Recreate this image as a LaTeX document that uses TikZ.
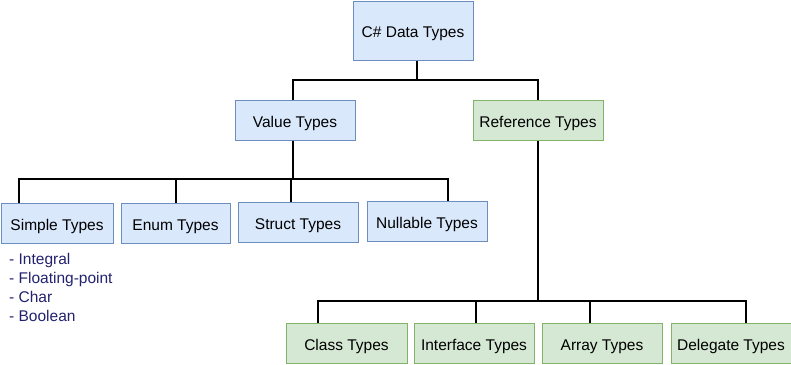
\documentclass[tikz,border=0pt]{standalone}
\usepackage{fontspec}
\setmainfont{Liberation Sans}
\usepackage{tikz}
\usetikzlibrary{positioning,calc}
\definecolor{valfill}{HTML}{DAE8FC}
\definecolor{valline}{HTML}{6C8EBF}
\definecolor{reffill}{HTML}{D5E8D4}
\definecolor{refline}{HTML}{82B366}
\definecolor{listtext}{RGB}{34,34,110}
\tikzstyle{valbox} = [rectangle, draw=valline, fill=valfill, line width=1pt, minimum width=120pt, minimum height=40pt, inner sep=0pt, text height=14pt, text depth=0pt, font=\fontsize{15.5}{18}\selectfont]
\tikzstyle{refbox} = [rectangle, draw=refline, fill=reffill, line width=1pt, minimum width=120pt, minimum height=40pt, inner sep=0pt, text height=14pt, text depth=0pt, font=\fontsize{15.5}{18}\selectfont]
\tikzstyle{conn} = [line width=1.6pt, black]

\begin{document}
\begin{tikzpicture}[x=1pt, y=1pt]
    \useasboundingbox (0,0) rectangle (791,-364);
    % top levels
    \node[valbox, minimum height=59pt] (root) at (413,-30.5) {C\# Data Types};
    \node[valbox] (value) at (295,-120) {Value Types};
    \node[refbox, minimum width=130pt] (ref) at (538,-120.5) {Reference Types};
    % value types
    \node[valbox, minimum width=112pt] (simple) at (57,-223) {Simple Types};
    \node[valbox, minimum width=109pt] (enum) at (175.5,-223) {Enum Types};
    \node[valbox] (struct) at (298,-222) {Struct Types};
    \node[valbox] (nullable) at (427,-221) {Nullable Types};
    \node[anchor=north west, align=left, text=listtext, inner sep=0pt,
          font=\fontsize{15.5}{19}\selectfont] (simplelist) at (9,-253)
          {- Integral\\- Floating-point\\- Char\\- Boolean};
    % reference types
    \node[refbox, minimum width=121pt] (class) at (346.5,-343) {Class Types};
    \node[refbox] (interface) at (474,-343) {Interface Types};
    \node[refbox] (array) at (602,-343) {Array Types};
    \node[refbox] (delegate) at (731,-343) {Delegate Types};
    % connectors
    \coordinate (rootbus) at (417,-80);
    \coordinate (valbus) at (293,-179);
    \coordinate (refbus) at (538,-301);
    \draw[conn] ([xshift=4pt]root.south) -- (rootbus);
    \draw[conn] (rootbus) -| ([xshift=-2pt]value.north);
    \draw[conn] (rootbus) -| (ref.north);
    \draw[conn] ([xshift=-2pt]value.south) -- (valbus);
    \draw[conn] (valbus) -| ([xshift=-38pt]simple.north);
    \draw[conn] (valbus) -| ([xshift=0.5pt]enum.north);
    \draw[conn] (valbus) -| ([xshift=-7pt]struct.north);
    \draw[conn] (valbus) -| ([xshift=21pt]nullable.north);
    \draw[conn] (ref.south) -- (refbus);
    \draw[conn] (refbus) -| ([xshift=-28.5pt]class.north);
    \draw[conn] (refbus) -| ([xshift=2pt]interface.north);
    \draw[conn] (refbus) -| ([xshift=-12pt]array.north);
    \draw[conn] (refbus) -| ([xshift=15pt]delegate.north);
\end{tikzpicture}
\end{document}
